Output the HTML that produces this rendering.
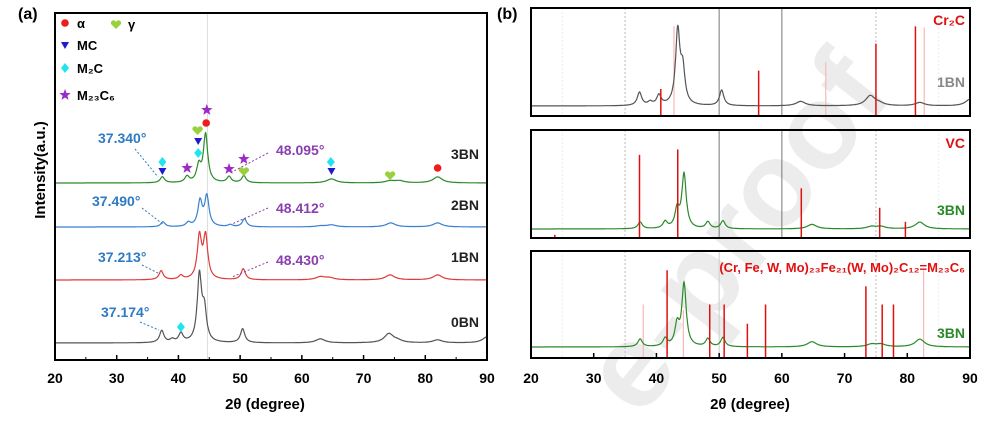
<!DOCTYPE html>
<html><head><meta charset="utf-8"><style>
html,body{margin:0;padding:0;background:#fff;}
svg{display:block;font-family:"Liberation Sans",Arial,sans-serif;font-weight:bold;}
</style></head><body>
<svg id="fig" width="986" height="421" viewBox="0 0 986 421" xmlns="http://www.w3.org/2000/svg">
<g id="wm">
<text x="0" y="0" transform="translate(640,420) rotate(-52)" font-size="120" fill="#ececec" font-weight="bold">e-proof</text>
</g>
<g id="A"></g>
<g id="B"></g>
</svg>
<script>
// ---- Panel (a) data ----
const peakPos3BN=[37.4,41.4,43.3,44.4,48.2,50.6,64.8,74.3,75.8,82.0];
const peakInt3BN=[6,6,16,48,6,7,4,2,2,6];
const peakPos2BN=[37.5,41.6,43.5,44.6,48.4,50.7,63.0,64.8,74.4,82.0];
const peakInt2BN=[5,4,25,30,2,8,1,2,4,4];
const peakPos1BN=[37.2,40.4,43.4,44.4,50.5,63.0,64.5,74.3,82.0];
const peakInt1BN=[9,4,42,42,11,3,2,5,5];
const peakPos0BN=[37.3,39.0,40.4,43.4,44.2,50.4,63.0,74.1,75.5,82.0,90.0];
const peakInt0BN=[12,3,9,66,30,14,4,9,2,3,6];
const offsets=[183,227,280,343];
const seriesNames=["3BN","2BN","1BN","0BN"];
const seriesColors=["#2a8a2a","#3a7fd0","#e03a3a","#555555"];
const xTicks=[20,30,40,50,60,70,80,90];
const annotations=["37.340°","48.095°","37.490°","48.412°","37.213°","48.430°","37.174°"];
// ---- Panel (b) data ----
const cr2cPos=[40.7,56.3,75.0,81.3];const cr2cInt=[0.25,0.42,0.67,0.83];
const cr2cFaintPos=[42.8,67.0,82.7];const cr2cFaintInt=[0.83,0.50,0.82];
const vcPos=[23.8,37.3,43.4,63.1,75.6,79.7];const vcInt=[0.03,0.77,0.82,0.46,0.28,0.15];
const m23Pos=[41.7,48.5,50.8,54.5,57.4,73.4,76.0,77.8];const m23Int=[0.82,0.50,0.50,0.32,0.50,0.67,0.50,0.50];
const m23FaintPos=[37.9,44.3,82.6];const m23FaintInt=[0.50,0.45,0.82];

const NS="http://www.w3.org/2000/svg";
function mk(tag,attrs,parent,txt){const e=document.createElementNS(NS,tag);for(const k in attrs)e.setAttribute(k,attrs[k]);if(txt!==undefined)e.textContent=txt;parent.appendChild(e);return e;}
function profile(pos,ints,x){let s=0;for(let i=0;i<pos.length;i++){const w=pos[i]>60?0.9:0.42;const d=(x-pos[i])/w;s+=ints[i]/(1+d*d);}return s;}
function tracePath(pos,ints,xs,ys,scale){let d="";for(let t=20;t<=90.001;t+=0.05){const v=profile(pos,ints,t)*scale;d+=(d?"L":"M")+xs(t).toFixed(1)+","+ys(v).toFixed(1);}return d;}

// ---- Panel A ----
const A=document.getElementById("A");
const axL=55,axR=487,axT=13,axB=360;
const xa=v=>axL+(v-20)/70*(axR-axL);
let e;
e=mk("line",{x1:xa(44.7),x2:xa(44.7),y1:axT,y2:axB,stroke:"#ddd","stroke-width":1},A);

const allPos=[peakPos3BN,peakPos2BN,peakPos1BN,peakPos0BN],allInt=[peakInt3BN,peakInt2BN,peakInt1BN,peakInt0BN];
for(let s=0;s<4;s++){
 const base=offsets[s];
 e=mk("path",{d:tracePath(allPos[s],allInt[s],xa,v=>base-v,1),fill:"none",stroke:seriesColors[s],"stroke-width":1.2},A);
 
 const ly=[159,210,262,327][s];
 e=mk("text",{x:479,y:ly,"font-size":14,"text-anchor":"end",fill:"#222"},A,seriesNames[s]);
 
}
e=mk("rect",{x:axL,y:axT,width:axR-axL,height:axB-axT,fill:"none",stroke:"#000","stroke-width":2},A);

xTicks.forEach(t=>{
 e=mk("line",{x1:xa(t),x2:xa(t),y1:axB,y2:axB-5,stroke:"#000","stroke-width":1.5},A);
 
 e=mk("text",{x:xa(t),y:383,"font-size":14,"text-anchor":"middle"},A,String(t));
 
});
for(let t=25;t<90;t+=10){e=mk("line",{x1:xa(t),x2:xa(t),y1:axB,y2:axB-3,stroke:"#000"},A);}
e=mk("text",{x:265,y:409,"font-size":15,"text-anchor":"middle"},A,"2θ (degree)");

e=mk("text",{x:0,y:0,"font-size":15,"text-anchor":"middle",transform:"translate(45,170) rotate(-90)"},A,"Intensity(a.u.)");

e=mk("text",{x:18,y:19,"font-size":16},A,"(a)");

function circle(x,y){return mk("circle",{cx:x,cy:y,r:3.8,fill:"#ee1c1c"},A);}
function tri(x,y){return mk("path",{d:`M${x-4},${y-3}L${x+4},${y-3}L${x},${y+4}Z`,fill:"#1c1ccc"},A);}
function diam(x,y){return mk("path",{d:`M${x},${y-5}L${x+4},${y}L${x},${y+5}L${x-4},${y}Z`,fill:"#22e4f0"},A);}
function heart(x,y){return mk("path",{d:`M${x},${y+5}L${x-5},${y}A2.6,2.6 0 0 1 ${x},${y-2}A2.6,2.6 0 0 1 ${x+5},${y}Z`,fill:"#9ad03c"},A);}
function star(x,y){let d="";for(let i=0;i<10;i++){const r=i%2?2.5:6;const a=-Math.PI/2+i*Math.PI/5;d+=(i?"L":"M")+(x+r*Math.cos(a)).toFixed(1)+","+(y+r*Math.sin(a)).toFixed(1);}return mk("path",{d:d+"Z",fill:"#9b2bc6"},A);}
const mks=[[circle,44.5,123],[circle,82,168],[tri,37.4,171],[tri,43.2,141],[tri,64.8,171],[diam,37.4,162],[diam,43.2,153],[diam,64.7,162],[diam,40.4,327],[heart,43.1,130],[heart,50.6,171],[heart,74.3,175],[star,41.4,168],[star,48.2,169],[star,50.6,159],[star,44.6,110]];
mks.forEach(m=>{e=m[0](xa(m[1]),m[2]);});
const leg=[[circle,"α",65,23],[heart,"γ",116,24],[tri,"MC",65,45],[diam,"M₂C",65,68],[star,"M₂₃C₆",65,95]];
leg.forEach(l=>{e=l[0](l[2],l[3]);
 e=mk("text",{x:l[2]+12,y:l[3]+5,"font-size":13},A,l[1]);});
const annX=[98,276,92,276,98,276,101],annY=[143,155,206,213,262,265,317];
const annC=["#2e7bc4","#8a3fb0","#2e7bc4","#8a3fb0","#2e7bc4","#8a3fb0","#2e7bc4"];
const arr=[[135,149,158,177],[268,153,232,172],[142,208,164,225],[268,208,232,224],[142,265,160,274],[268,262,232,277],[140,322,159,330]];
for(let i=0;i<annotations.length;i++){
 e=mk("text",{x:annX[i],y:annY[i],"font-size":14,fill:annC[i]},A,annotations[i]);
 
 const a=arr[i];
 e=mk("line",{x1:a[0],y1:a[1],x2:a[2],y2:a[3],stroke:annC[i],"stroke-width":1,"stroke-dasharray":"2,2"},A);
 
}

// ---- Panel B ----
const B=document.getElementById("B");
const bL=531,bR=970;
const xb=v=>bL+(v-20)/70*(bR-bL);
const panels=[[8,116],[130,238],[251,358]];
panels.forEach((p,i)=>{
 [25,35,75,85].forEach(g=>{e=mk("line",{x1:xb(g),x2:xb(g),y1:p[0],y2:p[1],stroke:(g===35||g===75)?"#bbb":"#eee","stroke-dasharray":"2,2"},B);});
 if(i<2){[50,60].forEach(g=>{e=mk("line",{x1:xb(g),x2:xb(g),y1:p[0],y2:p[1],stroke:"#777"},B);});}
 else{e=mk("line",{x1:xb(50),x2:xb(50),y1:p[0],y2:p[1],stroke:"#ccc"},B);}
});
function refLines(pos,ints,p,color,w,name){
 const h=p[1]-p[0];
 for(let i=0;i<pos.length;i++){e=mk("line",{x1:xb(pos[i]),x2:xb(pos[i]),y1:p[1],y2:p[1]-ints[i]*h,stroke:color,"stroke-width":w},B);
 }
}
refLines(cr2cFaintPos,cr2cFaintInt,panels[0],"#f6b8b8",1.2,"cr2c-faint-line");
refLines(m23FaintPos,m23FaintInt,panels[2],"#f6b8b8",1.2,"m23c6-faint-line");
e=mk("path",{d:tracePath(peakPos0BN,peakInt0BN,xb,v=>106-v,73/66),fill:"none",stroke:"#555","stroke-width":1.2},B);

e=mk("path",{d:tracePath(peakPos3BN,peakInt3BN,xb,v=>229-v,54/48),fill:"none",stroke:"#2a8a2a","stroke-width":1.2},B);

e=mk("path",{d:tracePath(peakPos3BN,peakInt3BN,xb,v=>347-v,62/48),fill:"none",stroke:"#2a8a2a","stroke-width":1.2},B);

refLines(cr2cPos,cr2cInt,panels[0],"#e01010",1.5,"cr2c-ref-line");
refLines(vcPos,vcInt,panels[1],"#e01010",1.5,"vc-ref-line");
refLines(m23Pos,m23Int,panels[2],"#e01010",1.5,"m23c6-ref-line");
panels.forEach(p=>{e=mk("rect",{x:bL,y:p[0],width:bR-bL,height:p[1]-p[0],fill:"none",stroke:"#000","stroke-width":2},B);});
const bLabels=[["Cr₂C","#e01010",965,25],["1BN","#888",965,87],["VC","#e01010",965,148],["3BN","#2a8a2a",965,215],["3BN","#2a8a2a",965,338]];
bLabels.forEach(l=>{e=mk("text",{x:l[2],y:l[3],"font-size":14,"text-anchor":"end",fill:l[1]},B,l[0]);});
e=mk("text",{x:965,y:272,"font-size":13,"text-anchor":"end",fill:"#e01010"},B,"(Cr, Fe, W, Mo)₂₃Fe₂₁(W, Mo)₂C₁₂=M₂₃C₆");

xTicks.forEach(t=>{
 e=mk("line",{x1:xb(t),x2:xb(t),y1:358,y2:353,stroke:"#000","stroke-width":1.5},B);
 e=mk("text",{x:xb(t),y:383,"font-size":14,"text-anchor":"middle"},B,String(t));
});
e=mk("text",{x:750,y:409,"font-size":15,"text-anchor":"middle"},B,"2θ (degree)");

e=mk("text",{x:497,y:19,"font-size":16},B,"(b)");

</script>
</body></html>
